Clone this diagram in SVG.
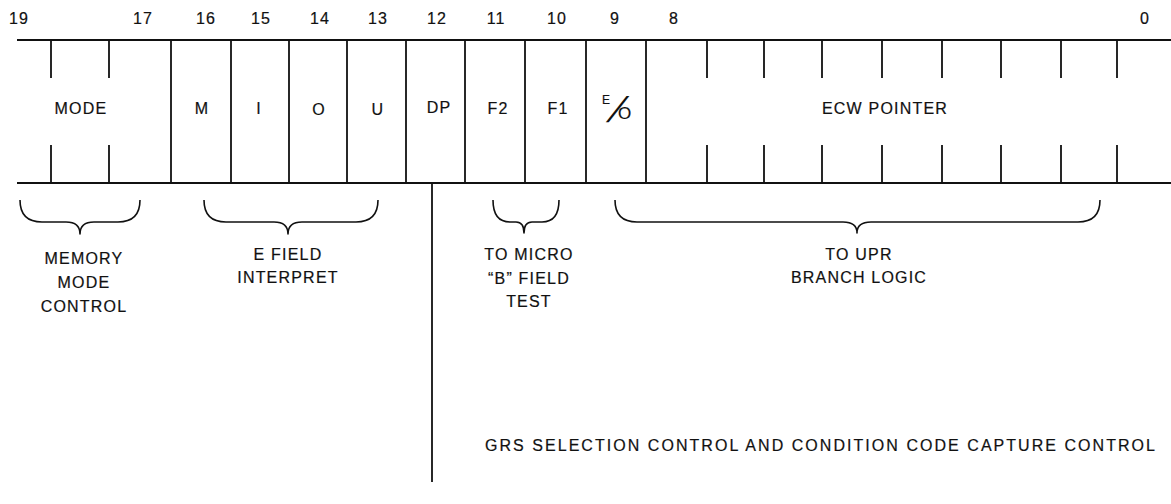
<svg xmlns="http://www.w3.org/2000/svg" width="1171" height="504" viewBox="0 0 1171 504">
<style>
  text { font-family: "Liberation Sans", Arial, sans-serif; font-size: 16px; fill: #111; stroke: #111; stroke-width: 0.2; letter-spacing: 1.2px; text-anchor: middle; }
  .num { font-size: 16px; letter-spacing: 1px; }
  .ln { stroke: #111; stroke-width: 1.8; fill: none; }
  .br { stroke: #111; stroke-width: 1.6; fill: none; stroke-linejoin: round; }
</style>
<rect width="1171" height="504" fill="#fff"/>
<g id="bit-numbers">
  <text class="num" x="19" y="24">19</text>
  <text class="num" x="143" y="24">17</text>
  <text class="num" x="206" y="24">16</text>
  <text class="num" x="261" y="24">15</text>
  <text class="num" x="320" y="24">14</text>
  <text class="num" x="378" y="24">13</text>
  <text class="num" x="437" y="24">12</text>
  <text class="num" x="496" y="24">11</text>
  <text class="num" x="557" y="24">10</text>
  <text class="num" x="615" y="24">9</text>
  <text class="num" x="674" y="24">8</text>
  <text class="num" x="1145" y="24">0</text>
</g>
<g id="register">
  <line class="ln" x1="17" y1="40" x2="1171" y2="40"/>
  <line class="ln" x1="17" y1="183" x2="1171" y2="183"/>
</g>
<g id="field-mode">
  <path class="ln" d="M51,40V78M109,40V78M51,145V183M109,145V183"/>
  <text x="81" y="114">MODE</text>
  <line class="ln" x1="171" y1="40" x2="171" y2="183"/>
</g>
<g id="field-m">
  <text x="202" y="114">M</text>
  <line class="ln" x1="231" y1="40" x2="231" y2="183"/>
</g>
<g id="field-i">
  <text x="259" y="114">I</text>
  <line class="ln" x1="289" y1="40" x2="289" y2="183"/>
</g>
<g id="field-o">
  <text x="319" y="115">O</text>
  <line class="ln" x1="347" y1="40" x2="347" y2="183"/>
</g>
<g id="field-u">
  <text x="378" y="115">U</text>
  <line class="ln" x1="406" y1="40" x2="406" y2="183"/>
</g>
<g id="field-dp">
  <text x="439" y="113">DP</text>
  <line class="ln" x1="465" y1="40" x2="465" y2="183"/>
</g>
<g id="field-f2">
  <text x="498" y="114">F2</text>
  <line class="ln" x1="525" y1="40" x2="525" y2="183"/>
</g>
<g id="field-f1">
  <text x="558" y="114">F1</text>
  <line class="ln" x1="586" y1="40" x2="586" y2="183"/>
</g>
<g id="field-eo">
  <text x="602" y="104" style="font-size:12px;letter-spacing:0;text-anchor:start">E</text>
  <text transform="translate(606,122) skewX(-27)" x="0" y="0" style="font-size:36px;letter-spacing:0;text-anchor:start;stroke-width:0">/</text>
  <text x="618" y="119" style="font-size:17px;letter-spacing:0;text-anchor:start">O</text>
  <line class="ln" x1="646" y1="40" x2="646" y2="183"/>
</g>
<g id="field-ecw-pointer">
  <path class="ln" d="M707,40V78M764,40V78M822,40V78M882,40V78M942,40V78M1001,40V78M1061,40V78M1117,40V78M707,145V183M764,145V183M822,145V183M882,145V183M942,145V183M1001,145V183M1061,145V183M1117,145V183"/>
  <text x="885" y="114">ECW POINTER</text>
</g>
<g id="memory-mode-control">
  <path class="br" d="M20,200 Q20,222 42,222 L66,222 Q80,222 80,234 Q80,222 94,222 L118,222 Q140,222 140,200"/>
  <text x="84" y="264">MEMORY</text>
  <text x="84" y="288">MODE</text>
  <text x="84" y="312">CONTROL</text>
</g>
<g id="e-field-interpret">
  <path class="br" d="M204,200 Q204,222 226,222 L274,222 Q288,222 288,234 Q288,222 302,222 L356,222 Q378,222 378,200"/>
  <text x="288" y="260">E FIELD</text>
  <text x="288" y="283">INTERPRET</text>
</g>
<g id="to-micro-b-field-test">
  <path class="br" d="M493,200 Q493,222 510,222 L516,222 Q524,222 524,233 Q524,222 532,222 L542,222 Q559,222 559,200"/>
  <text x="529" y="260">TO MICRO</text>
  <text x="529" y="284">“B” FIELD</text>
  <text x="529" y="307">TEST</text>
</g>
<g id="to-upr-branch-logic">
  <path class="br" d="M615,200 Q615,222 637,222 L843,222 Q857,222 857,233 Q857,222 871,222 L1078,222 Q1100,222 1100,200"/>
  <text x="859" y="260">TO UPR</text>
  <text x="859" y="283">BRANCH LOGIC</text>
</g>
<g id="connectors">
  <line class="ln" x1="432" y1="183" x2="432" y2="482"/>
</g>
<g id="grs-selection-control">
  <text x="820" y="451" textLength="670" lengthAdjust="spacing" style="letter-spacing:0">GRS SELECTION CONTROL AND CONDITION CODE CAPTURE CONTROL</text>
</g>
</svg>
